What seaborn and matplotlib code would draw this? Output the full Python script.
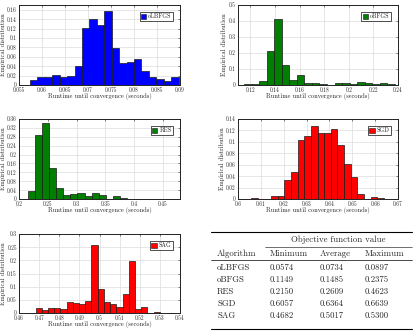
import numpy as np
import pandas as pd
import matplotlib
matplotlib.use("Agg")
import matplotlib.pyplot as plt
from matplotlib.patches import Patch
from matplotlib.ticker import FuncFormatter, MultipleLocator
import seaborn as sns

# ---------------- data ----------------
olbfgs_range = (0.0574, 0.0897)
olbfgs_vals = [0.010, 0.016, 0.016, 0.022, 0.016, 0.020, 0.040, 0.122, 0.140, 0.128,
               0.158, 0.078, 0.046, 0.048, 0.056, 0.030, 0.016, 0.012, 0.008, 0.018]

obfgs_range = (0.1149, 0.2375)
obfgs_vals = [0.005, 0.005, 0.025, 0.210, 0.415, 0.127, 0.030, 0.062, 0.015, 0.013,
              0.008, 0.003, 0.010, 0.010, 0.005, 0.018, 0.012, 0.008, 0.012, 0.008]

res_range = (0.2150, 0.4623)
res_vals = [0.036, 0.290, 0.340, 0.140, 0.050, 0.020, 0.022, 0.028, 0.014, 0.027,
            0.020, 0.000, 0.012, 0.005, 0.002, 0.000, 0.000, 0.000, 0.000, 0.002]

sgd_range = (0.6057, 0.6639)
sgd_vals = [0.002, 0.000, 0.000, 0.006, 0.006, 0.034, 0.048, 0.104, 0.110, 0.128,
            0.116, 0.116, 0.122, 0.094, 0.062, 0.038, 0.009, 0.000, 0.004, 0.002]

sag_range = (0.4682, 0.5300)
sag_vals = [0.020, 0.010, 0.018, 0.020, 0.015, 0.040, 0.038, 0.035, 0.047, 0.258,
            0.090, 0.043, 0.036, 0.024, 0.073, 0.198, 0.015, 0.024, 0.000, 0.005]

table_header = ["Algorithm", "Minimum", "Average", "Maximum"]
table_algos = ["oLBFGS", "oBFGS", "RES", "SGD", "SAG"]
table_min = ["0.0574", "0.1149", "0.2150", "0.6057", "0.4682"]
table_avg = ["0.0734", "0.1485", "0.2609", "0.6364", "0.5017"]
table_max = ["0.0897", "0.2375", "0.4623", "0.6639", "0.5300"]

# ---------------- style ----------------
sns.set_style("white")
plt.rcParams["font.family"] = ["cmr10", "DejaVu Serif"]
plt.rcParams["axes.formatter.use_mathtext"] = True
plt.rcParams["mathtext.fontset"] = "cm"

W, H = 418, 334
fig = plt.figure(figsize=(W / 100, H / 100), dpi=100)
fig.patch.set_facecolor("white")


def px_axes(left, right, top, bottom):
    return fig.add_axes([left / W, 1 - bottom / H, (right - left) / W, (bottom - top) / H])


fmt = FuncFormatter(lambda v, p: ("%g" % round(v, 6)))

panels = [
    dict(name="oLBFGS", rng=olbfgs_range, vals=olbfgs_vals, color="#0000ff",
         box=(19, 180, 5, 85), xlim=(0.055, 0.09), xstep=0.005, ylim=(0, 0.17), ystep=0.02),
    dict(name="oBFGS", rng=obfgs_range, vals=obfgs_vals, color="#007f00",
         box=(238, 398, 5, 85), xlim=(0.11, 0.24), xstep=0.02, ylim=(0, 0.5), ystep=0.1),
    dict(name="RES", rng=res_range, vals=res_vals, color="#007f00",
         box=(19, 180, 119, 199), xlim=(0.2, 0.48), xstep=0.05, ylim=(0, 0.36), ystep=0.04),
    dict(name="SGD", rng=sgd_range, vals=sgd_vals, color="#ff0000",
         box=(238, 398, 119, 199), xlim=(0.6, 0.67), xstep=0.01, ylim=(0, 0.14), ystep=0.02),
    dict(name="SAG", rng=sag_range, vals=sag_vals, color="#ff0000",
         box=(19, 180, 234, 313), xlim=(0.46, 0.54), xstep=0.01, ylim=(0, 0.3), ystep=0.05),
]

for p in panels:
    ax = px_axes(*p["box"])
    n = len(p["vals"])
    edges = np.linspace(p["rng"][0], p["rng"][1], n + 1)
    centers = (edges[:-1] + edges[1:]) / 2
    df = pd.DataFrame({"x": centers, "w": np.asarray(p["vals"], dtype=float)})
    sns.histplot(data=df, x="x", weights="w", bins=list(edges), ax=ax, color=p["color"],
                 alpha=1.0, edgecolor="#1a1a1a", linewidth=0.5)
    ax.set_xlim(*p["xlim"])
    ax.set_ylim(*p["ylim"])
    ax.xaxis.set_major_locator(MultipleLocator(p["xstep"]))
    ax.yaxis.set_major_locator(MultipleLocator(p["ystep"]))
    ax.xaxis.set_major_formatter(fmt)
    ax.yaxis.set_major_formatter(fmt)
    ax.grid(True, color="#dcdcdc", linewidth=0.5)
    ax.set_axisbelow(True)
    ax.tick_params(axis="both", labelsize=3.9, direction="in", length=1.5, width=0.4,
                   top=True, right=True)
    ax.tick_params(axis="x", pad=1.6)
    ax.tick_params(axis="y", pad=1.6)
    for s in ax.spines.values():
        s.set_linewidth(0.7)
        s.set_color("#222222")
    ax.set_xlabel("Runtime until convergence (seconds)", fontsize=4.6, labelpad=0.2)
    ax.set_ylabel("Empirical distribution", fontsize=4.6, labelpad=1.0)
    leg = ax.legend(handles=[Patch(facecolor=p["color"], edgecolor="#1a1a1a", linewidth=0.4,
                                   label=p["name"])],
                    loc="upper right", fontsize=4.4, frameon=True, fancybox=False,
                    handlelength=0.9, handleheight=0.9, handletextpad=0.3,
                    borderpad=0.2, borderaxespad=1.2)
    leg.get_frame().set_edgecolor("black")
    leg.get_frame().set_linewidth(0.6)

# ---------------- table ----------------
tax = fig.add_axes([0, 0, 1, 1], facecolor="none")
tax.set_xlim(0, W)
tax.set_ylim(H, 0)
tax.axis("off")

fs = 6.3
x_l, x_r = 211, 412
col_x = [217, 270, 320, 365]
tax.plot([x_l, x_r], [232, 232], color="black", lw=0.8)
tax.text(338, 240, "Objective function value", fontsize=fs, ha="center", va="center")
tax.plot([265, x_r], [246.5, 246.5], color="black", lw=0.4)
for x, t in zip(col_x, table_header):
    tax.text(x, 253.5, t, fontsize=fs, ha="left", va="center")
tax.plot([x_l, x_r], [260, 260], color="black", lw=0.5)
row_y = [267.5, 279.5, 291.5, 303.5, 315.5]
for i, y in enumerate(row_y):
    for x, t in zip(col_x, [table_algos[i], table_min[i], table_avg[i], table_max[i]]):
        tax.text(x, y, t, fontsize=fs, ha="left", va="center")
tax.plot([x_l, x_r], [329, 329], color="black", lw=0.8)

fig.savefig("out.png", dpi=100, facecolor="white")
